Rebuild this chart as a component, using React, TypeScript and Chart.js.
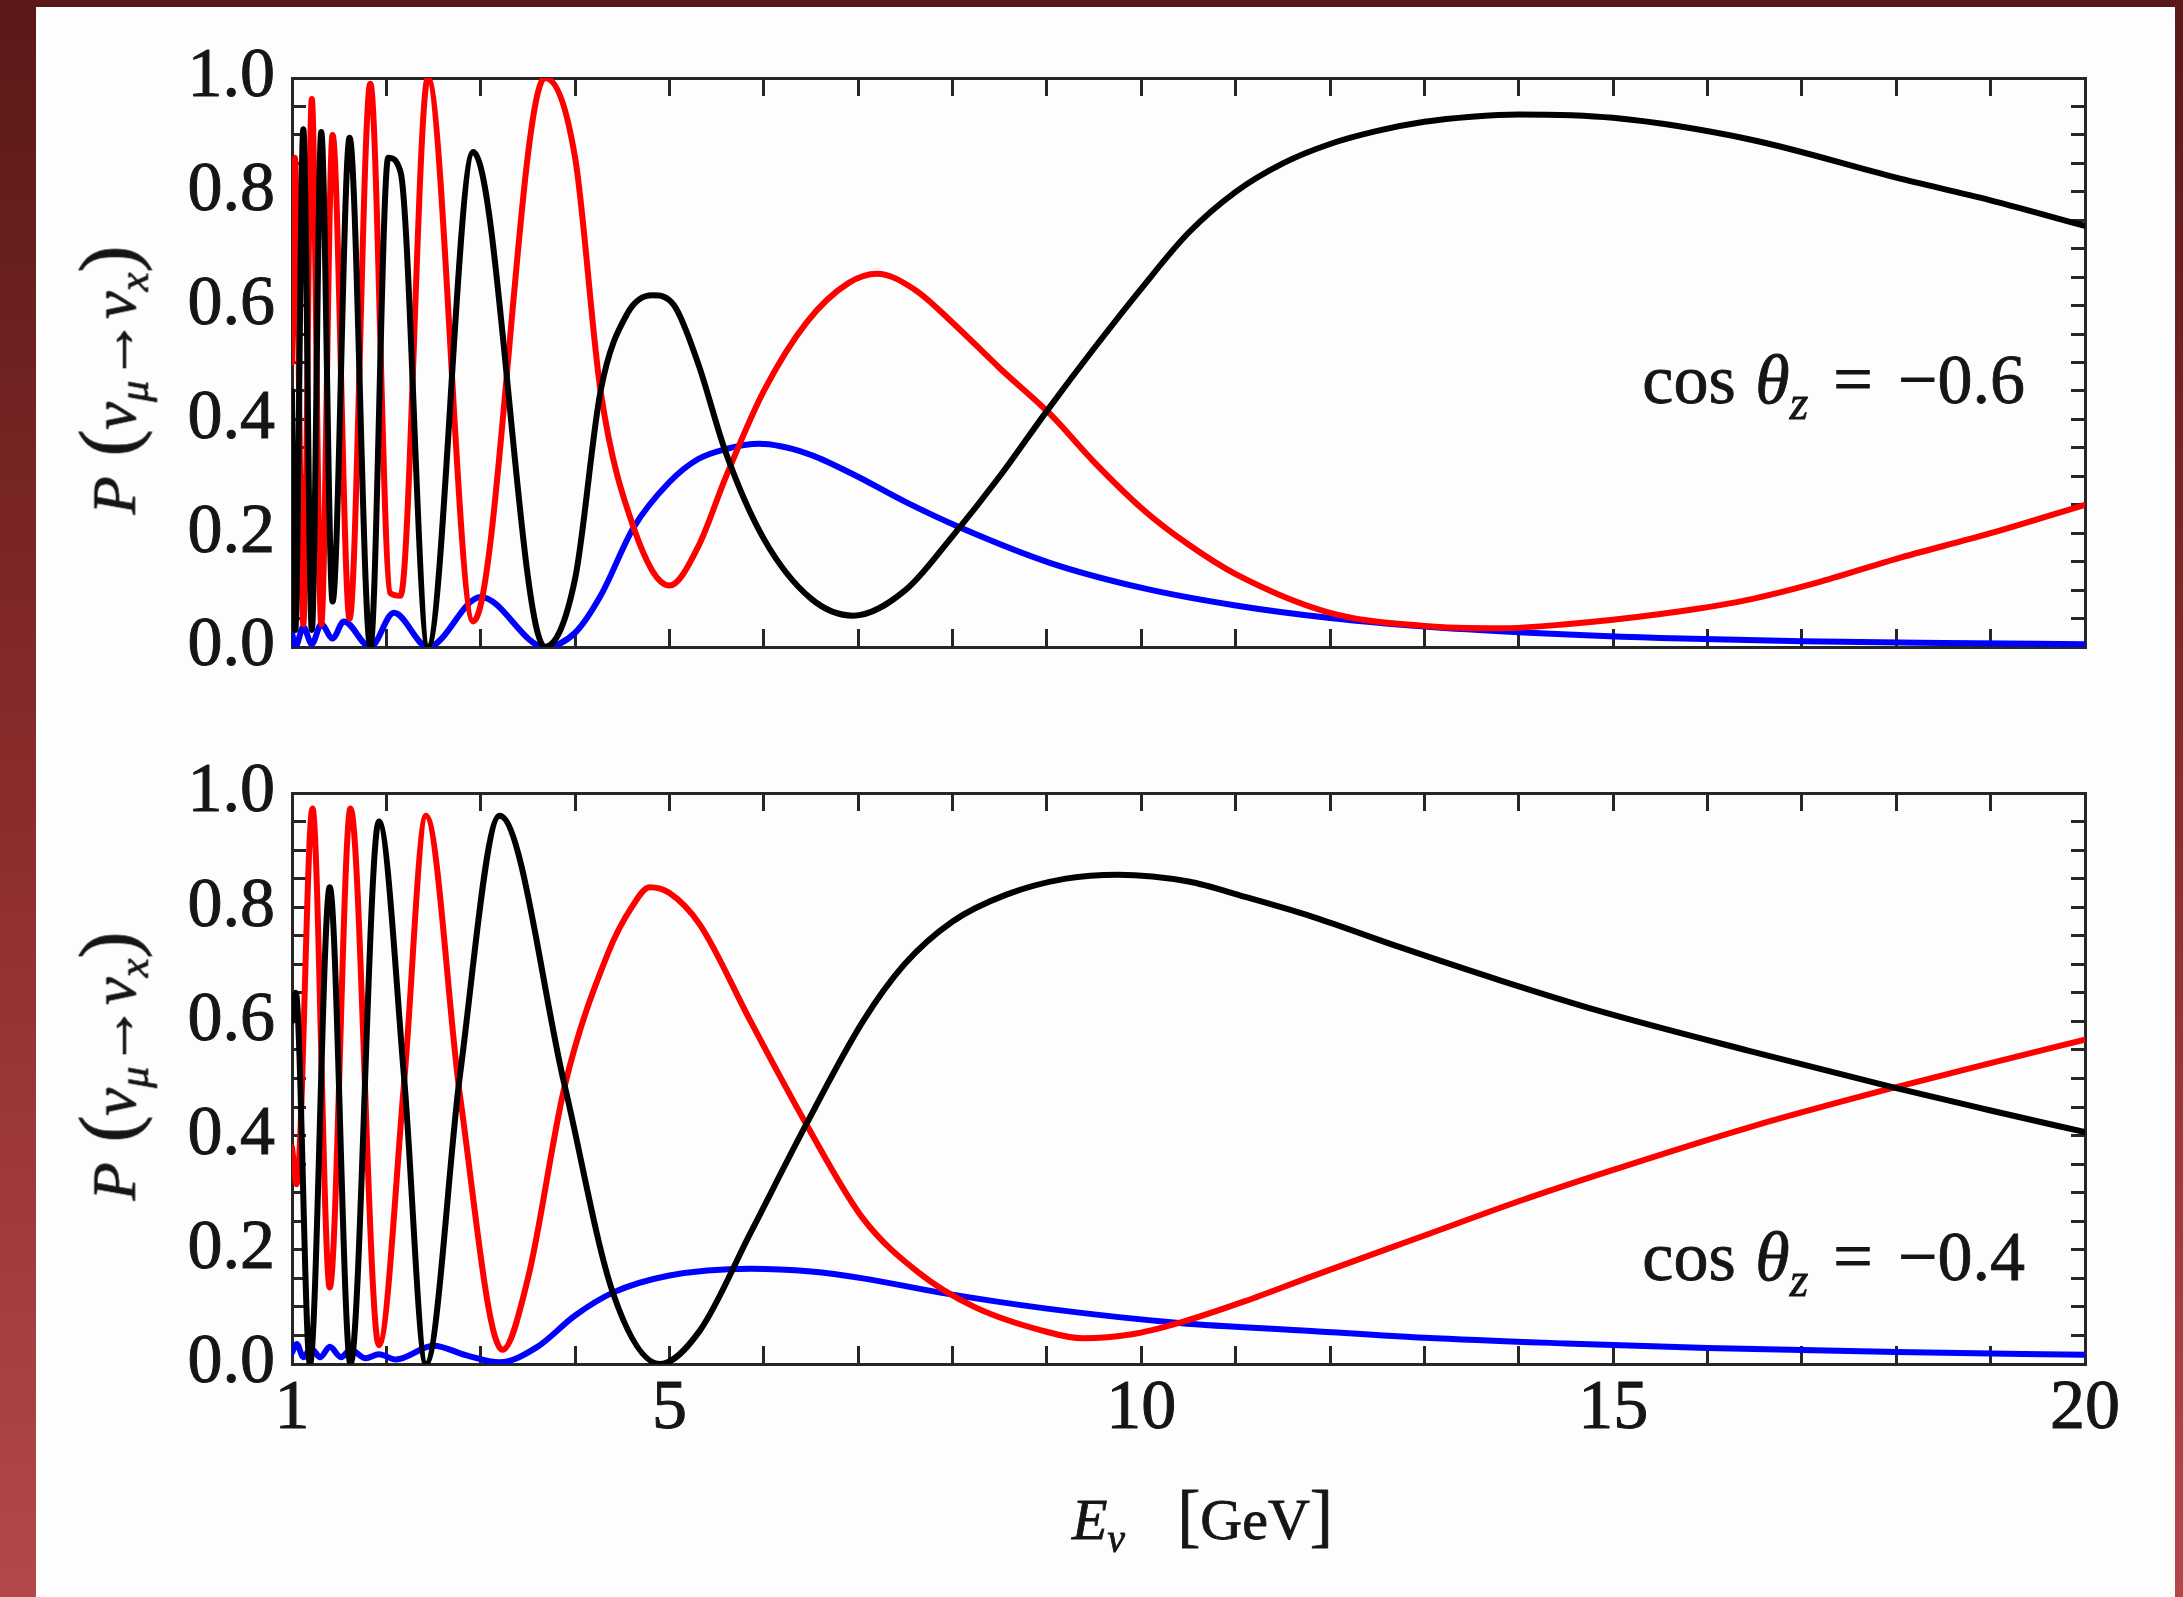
import React, { useEffect, useRef } from 'react';
import { Chart, registerables } from 'chart.js';

Chart.register(...registerables);

type Pt = [number, number];

const PAGE_W = 2183;
const PAGE_H = 1597;

// Energy axis (GeV) and probability axis
const energyMin = 1;
const energyMax = 20;
const xTickLabels = [1, 5, 10, 15, 20];
const yTickLabels = [0, 0.2, 0.4, 0.6, 0.8, 1.0];

// cos θz = −0.6 : P(νμ→ντ) black, P(νμ→νμ) red, P(νμ→νe) blue
const upperMuTau: Pt[] = [
  [1.0, 0.45], [1.035, 0.03], [1.12, 0.91], [1.21, 0.03], [1.31, 0.905], [1.43, 0.08],
  [1.61, 0.895], [1.83, 0.0], [2.02, 0.86], [2.15, 0.835], [2.44, 0.0], [2.92, 0.87],
  [3.68, 0.0], [4.0, 0.12], [4.27, 0.45], [4.55, 0.585], [4.82, 0.618], [5.05, 0.6],
  [5.3, 0.5], [5.6, 0.34], [6.0, 0.19], [6.5, 0.085], [6.95, 0.055], [7.5, 0.1],
  [8.0, 0.195], [8.5, 0.3], [9.0, 0.415], [9.5, 0.525], [10.0, 0.63], [10.5, 0.728],
  [11.0, 0.8], [11.5, 0.85], [12.0, 0.884], [12.5, 0.907], [13.0, 0.923], [13.5, 0.932],
  [14.0, 0.936], [15.0, 0.93], [16.45, 0.892], [18.0, 0.825], [19.0, 0.785], [20.0, 0.74],
];
const upperMuMu: Pt[] = [
  [1.0, 0.5], [1.03, 0.86], [1.12, 0.04], [1.21, 0.963], [1.31, 0.04], [1.43, 0.9],
  [1.61, 0.05], [1.83, 0.99], [2.04, 0.095], [2.15, 0.09], [2.44, 1.0], [2.92, 0.045],
  [3.68, 1.0], [4.0, 0.86], [4.27, 0.45], [4.62, 0.21], [5.0, 0.108], [5.3, 0.175],
  [5.6, 0.3], [6.0, 0.45], [6.46, 0.572], [6.9, 0.64], [7.2, 0.656], [7.6, 0.628],
  [8.0, 0.57], [8.5, 0.49], [9.03, 0.41], [9.5, 0.325], [10.03, 0.24], [10.5, 0.18],
  [11.0, 0.128], [12.0, 0.06], [13.0, 0.037], [13.8, 0.033], [14.5, 0.04], [15.5, 0.058],
  [16.4, 0.082], [17.2, 0.115], [18.0, 0.155], [19.0, 0.2], [20.0, 0.25],
];
const upperMuE: Pt[] = [
  [1.0, 0.025], [1.035, 0.0], [1.12, 0.035], [1.21, 0.005], [1.31, 0.04], [1.43, 0.015],
  [1.55, 0.045], [1.83, 0.0], [2.08, 0.06], [2.44, 0.0], [3.0, 0.088], [3.68, 0.0],
  [4.0, 0.025], [4.27, 0.09], [4.62, 0.21], [5.0, 0.29], [5.3, 0.33], [5.6, 0.348],
  [5.95, 0.357], [6.46, 0.34], [6.94, 0.304], [7.5, 0.255], [8.08, 0.21], [9.03, 0.148],
  [10.03, 0.103], [11.0, 0.073], [12.0, 0.051], [13.0, 0.036], [14.0, 0.026], [15.5, 0.016],
  [17.0, 0.01], [18.5, 0.007], [20.0, 0.005],
];

// cos θz = −0.4
const lowerMuTau: Pt[] = [
  [1.0, 0.6], [1.04, 0.65], [1.19, 0.0], [1.4, 0.835], [1.62, 0.0], [1.92, 0.95],
  [2.19, 0.497], [2.42, 0.0], [2.78, 0.506], [3.2, 0.96], [3.89, 0.487], [4.4, 0.125],
  [4.9, 0.0], [5.32, 0.058], [5.86, 0.23], [6.45, 0.42], [7.05, 0.6], [7.49, 0.7],
  [8.0, 0.775], [8.57, 0.822], [9.2, 0.85], [9.75, 0.857], [10.5, 0.845], [11.1, 0.818],
  [11.8, 0.784], [12.74, 0.73], [13.8, 0.672], [14.86, 0.618], [16.45, 0.548], [18.0, 0.483],
  [19.0, 0.444], [20.0, 0.406],
];
const lowerMuMu: Pt[] = [
  [1.0, 0.38], [1.05, 0.315], [1.217, 0.973], [1.4, 0.134], [1.62, 0.973], [1.92, 0.033],
  [2.19, 0.497], [2.42, 0.96], [2.78, 0.47], [3.23, 0.025], [3.5, 0.15], [3.89, 0.487],
  [4.35, 0.72], [4.6, 0.8], [4.79, 0.835], [5.0, 0.825], [5.32, 0.77], [5.86, 0.6],
  [6.45, 0.42], [7.05, 0.255], [7.64, 0.16], [8.23, 0.1], [8.96, 0.058], [9.38, 0.045],
  [9.9, 0.052], [10.4, 0.072], [11.1, 0.11], [11.8, 0.153], [13.0, 0.225], [14.0, 0.285],
  [15.0, 0.34], [16.45, 0.415], [18.0, 0.485], [19.0, 0.527], [20.0, 0.568],
];
const lowerMuE: Pt[] = [
  [1.0, 0.02], [1.05, 0.035], [1.12, 0.012], [1.2, 0.027], [1.3, 0.012], [1.4, 0.03],
  [1.52, 0.012], [1.62, 0.025], [1.78, 0.01], [1.92, 0.017], [2.1, 0.008], [2.5, 0.032],
  [2.85, 0.015], [3.2, 0.003], [3.6, 0.03], [4.0, 0.085], [4.4, 0.125], [5.0, 0.155],
  [5.86, 0.167], [6.5, 0.162], [7.05, 0.15], [7.87, 0.125], [9.0, 0.097], [10.4, 0.072],
  [11.8, 0.058], [13.0, 0.046], [14.5, 0.036], [16.0, 0.028], [18.0, 0.021], [20.0, 0.016],
];

const SERIF = '"Liberation Serif", "Times New Roman", "DejaVu Serif", serif';
const INK = '#151515';
const AXIS = '#262626';
const PLOT_LEFT = 292;
const PLOT_RIGHT = 2085;

type PanelProps = {
  top: number;
  height: number;
  plotTop: number;
  plotBottom: number;
  showXLabels: boolean;
  tau: Pt[];
  mu: Pt[];
  e: Pt[];
};

function Panel({ top, height, plotTop, plotBottom, showXLabels, tau, mu, e }: PanelProps) {
  const ref = useRef<HTMLCanvasElement>(null);

  useEffect(() => {
    const canvas = ref.current;
    if (!canvas) return;

    const curve = (pts: Pt[], color: string) => ({
      data: pts.map(([x, y]) => ({ x, y })),
      borderColor: color,
      backgroundColor: color,
      borderWidth: 6,
      pointRadius: 0,
      pointHoverRadius: 0,
      fill: false,
      cubicInterpolationMode: 'monotone' as const,
      borderJoinStyle: 'round' as const,
      borderCapStyle: 'round' as const,
    });

    const grid = (len: number) => ({
      drawOnChartArea: false,
      drawTicks: true,
      tickLength: -len,
      tickWidth: 3,
      tickColor: AXIS,
      lineWidth: 3,
      color: AXIS,
    });
    const border = { display: true, color: AXIS, width: 3 };
    const font = { family: SERIF, size: 70 };

    const xTick = (v: number | string) =>
      showXLabels && xTickLabels.some((t) => Math.abs(t - Number(v)) < 1e-9) ? String(v) : '';
    const yTick = (v: number | string) =>
      yTickLabels.some((t) => Math.abs(t - Number(v)) < 1e-6) ? Number(v).toFixed(1) : '';

    // room kept under the lower plot so the energy labels are not clipped
    const xAxisBox = showXLabels ? 150 : 0;

    const chart = new Chart(canvas, {
      type: 'line',
      data: {
        datasets: [curve(tau, '#000000'), curve(mu, '#ff0000'), curve(e, '#0000ff')],
      },
      options: {
        animation: false,
        responsive: false,
        events: [],
        layout: {
          padding: {
            left: 0,
            right: PAGE_W - PLOT_RIGHT,
            top: plotTop - top,
            bottom: top + height - plotBottom - xAxisBox,
          },
        },
        plugins: {
          legend: { display: false },
          tooltip: { enabled: false },
          title: { display: false },
        },
        scales: {
          x: {
            type: 'linear',
            position: 'bottom',
            min: energyMin,
            max: energyMax,
            ticks: {
              stepSize: 1,
              autoSkip: false,
              maxRotation: 0,
              minRotation: 0,
              padding: 22,
              font,
              color: INK,
              textStrokeColor: INK,
              textStrokeWidth: 1,
              callback: xTick,
            },
            grid: grid(18),
            border,
            afterFit: (s: any) => {
              s.height = xAxisBox;
            },
          },
          x2: {
            type: 'linear',
            position: 'top',
            min: energyMin,
            max: energyMax,
            ticks: { stepSize: 1, autoSkip: false, maxRotation: 0, minRotation: 0, callback: () => '' },
            grid: grid(18),
            border,
            afterFit: (s: any) => {
              s.height = 0;
            },
          },
          y: {
            type: 'linear',
            position: 'left',
            min: 0,
            max: 1,
            ticks: {
              stepSize: 0.05,
              autoSkip: false,
              padding: 31,
              font,
              color: INK,
              textStrokeColor: INK,
              textStrokeWidth: 1,
              callback: yTick,
            },
            grid: grid(14),
            border,
            afterFit: (s: any) => {
              s.width = PLOT_LEFT;
            },
          },
          y2: {
            type: 'linear',
            position: 'right',
            min: 0,
            max: 1,
            ticks: { stepSize: 0.05, autoSkip: false, callback: () => '' },
            grid: grid(14),
            border,
            afterFit: (s: any) => {
              s.width = 0;
            },
          },
        },
      } as any,
    });

    return () => chart.destroy();
  }, []);

  return (
    <canvas
      ref={ref}
      width={PAGE_W}
      height={height}
      style={{ position: 'absolute', left: 0, top, width: PAGE_W, height, display: 'block' }}
    />
  );
}

const Sub = ({ children }: { children: React.ReactNode }) => (
  <span
    style={{
      fontSize: '0.68em',
      fontStyle: 'italic',
      position: 'relative',
      top: '0.32em',
      lineHeight: 0,
    }}
  >
    {children}
  </span>
);

const textBase: React.CSSProperties = {
  position: 'absolute',
  fontFamily: SERIF,
  lineHeight: 1,
  color: INK,
  whiteSpace: 'nowrap',
  WebkitTextStroke: `0.8px ${INK}`,
};

function AxisTitleY({ centerY }: { centerY: number }) {
  return (
    <div
      style={{
        ...textBase,
        left: 108,
        top: centerY,
        transform: 'translate(-50%, -50%) rotate(-90deg)',
        fontSize: 62,
      }}
    >
      <i>P</i>
      <span style={{ marginLeft: '0.25em', fontSize: '1.3em' }}>(</span>
      <i>ν</i>
      <Sub>μ</Sub>
      <span style={{ fontWeight: 'bold' }}>→</span>
      <i>ν</i>
      <Sub>x</Sub>
      <span style={{ fontSize: '1.3em' }}>)</span>
    </div>
  );
}

function CosLabel({ baseline, value }: { baseline: number; value: string }) {
  const size = 70;
  return (
    <div
      style={{
        ...textBase,
        right: PAGE_W - 2025,
        top: baseline - 0.8375 * size,
        fontSize: size,
      }}
    >
      cos<span style={{ marginLeft: '0.28em' }}><i>θ</i></span>
      <Sub>z</Sub>
      <span style={{ margin: '0 0.36em' }}>=</span>
      {value}
    </div>
  );
}

export default function App() {
  const xTitleSize = 58;
  return (
    <div
      style={{
        position: 'fixed',
        left: 0,
        top: 0,
        width: PAGE_W,
        height: PAGE_H,
        overflow: 'hidden',
        background: 'linear-gradient(180deg, #5a1818 0%, #8a2c2c 50%, #b44848 100%)',
      }}
    >
      <div
        style={{
          position: 'absolute',
          left: 36,
          top: 7,
          width: 2175 - 36,
          height: PAGE_H - 7,
          background: '#fdfdfd',
        }}
      />
      <Panel
        top={0}
        height={720}
        plotTop={78}
        plotBottom={678}
        showXLabels={false}
        tau={upperMuTau}
        mu={upperMuMu}
        e={upperMuE}
      />
      <Panel
        top={720}
        height={PAGE_H - 720}
        plotTop={764}
        plotBottom={1364}
        showXLabels={true}
        tau={lowerMuTau}
        mu={lowerMuMu}
        e={lowerMuE}
      />
      <AxisTitleY centerY={380} />
      <AxisTitleY centerY={1066} />
      <CosLabel baseline={404} value="−0.6" />
      <CosLabel baseline={1281} value="−0.4" />
      <div
        style={{
          ...textBase,
          left: 1072,
          top: 1530 - 0.8375 * xTitleSize,
          fontSize: xTitleSize,
        }}
      >
        <i>E</i>
        <Sub>ν</Sub>
        <span style={{ marginLeft: '0.75em', fontSize: '1.2em' }}>[</span>
        GeV
        <span style={{ fontSize: '1.2em' }}>]</span>
      </div>
    </div>
  );
}
